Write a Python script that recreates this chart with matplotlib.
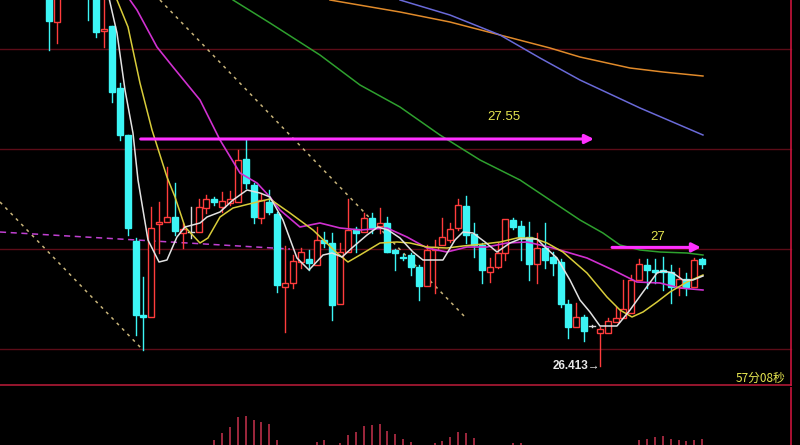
import matplotlib
matplotlib.use('Agg')
import matplotlib.pyplot as plt
from matplotlib.patches import Rectangle

plt.rcParams['font.family'] = ['Liberation Sans', 'DejaVu Sans', 'Noto Sans CJK SC']

# candles, one per bar
opens = [28.395, 28.135, 28.50, 28.40, 28.47, 28.445, 28.295, 28.09, 28.115, 27.805,
         27.57, 27.04, 26.67, 26.66, 27.125, 27.135, 27.16, 27.08, 27.085, 27.085,
         27.205, 27.25, 27.21, 27.23, 27.235, 27.45, 27.32, 27.155, 27.235, 27.175,
         26.81, 26.83, 26.935, 26.95, 26.92, 27.045, 27.03, 26.725, 26.985, 27.10,
         27.085, 27.155, 27.115, 27.13, 26.995, 26.96, 26.97, 26.91, 26.815, 26.995,
         27.02, 27.045, 27.105, 27.215, 27.075, 27.02, 26.885, 26.91, 26.98, 27.145,
         27.115, 27.06, 26.925, 27.005, 26.96, 26.935, 26.725, 26.61, 26.66, 26.615,
         26.58, 26.58, 26.635, 26.655, 26.68, 26.845, 26.92, 26.895, 26.895, 26.885,
         26.81, 26.85, 26.81, 26.95]
closes = [28.14, 28.345, 28.42, 28.48, 28.36, 28.27, 28.085, 28.10, 27.785, 27.57,
          27.105, 26.67, 26.66, 27.105, 27.135, 27.16, 27.09, 27.10, 27.085, 27.21,
          27.25, 27.235, 27.24, 27.25, 27.445, 27.33, 27.16, 27.245, 27.185, 26.82,
          26.83, 26.94, 26.985, 26.93, 27.045, 27.03, 26.72, 26.985, 27.095, 27.08,
          27.155, 27.105, 27.13, 26.985, 26.98, 26.955, 26.91, 26.815, 26.995, 27.01,
          27.06, 27.10, 27.22, 27.07, 27.02, 26.895, 26.91, 26.98, 27.15, 27.11,
          27.06, 26.925, 27.005, 26.945, 26.93, 26.725, 26.61, 26.66, 26.59, 26.615,
          26.60, 26.64, 26.655, 26.70, 26.845, 26.925, 26.895, 26.885, 26.885, 26.81,
          26.85, 26.81, 26.945, 26.925]
highs = [28.445, 28.395, 28.55, 28.52, 28.50, 28.46, 28.30, 28.27, 28.115, 27.83,
         27.57, 27.055, 26.86, 27.21, 27.235, 27.41, 27.33, 27.13, 27.21, 27.25,
         27.27, 27.26, 27.285, 27.29, 27.495, 27.545, 27.33, 27.28, 27.295, 27.185,
         27.015, 26.97, 27.005, 26.995, 27.11, 27.085, 27.08, 27.03, 27.25, 27.11,
         27.18, 27.18, 27.205, 27.16, 27.0, 26.975, 26.98, 26.92, 27.02, 27.045,
         27.155, 27.13, 27.25, 27.265, 27.13, 27.03, 26.955, 27.03, 27.15, 27.155,
         27.14, 27.135, 27.08, 27.13, 26.985, 26.95, 26.745, 26.73, 26.67, 26.62,
         26.61, 26.655, 26.71, 26.845, 26.87, 26.95, 26.95, 26.95, 26.96, 26.92,
         26.905, 26.88, 26.955, 26.955]
lows = [27.995, 28.03, 28.38, 28.36, 28.30, 28.145, 28.06, 28.01, 27.735, 27.545,
        27.07, 26.57, 26.495, 26.66, 26.98, 27.135, 27.07, 27.005, 27.055, 27.085,
        27.18, 27.22, 27.185, 27.22, 27.235, 27.305, 27.13, 27.13, 27.175, 26.785,
        26.585, 26.805, 26.905, 26.895, 26.92, 27.01, 26.645, 26.725, 26.985, 26.985,
        27.085, 27.08, 27.08, 26.985, 26.895, 26.945, 26.87, 26.745, 26.815, 26.78,
        27.02, 27.035, 27.095, 27.03, 26.96, 26.83, 26.835, 26.905, 26.945, 27.10,
        26.945, 26.845, 26.83, 26.905, 26.87, 26.71, 26.555, 26.61, 26.54, 26.61,
        26.413, 26.58, 26.635, 26.655, 26.68, 26.845, 26.805, 26.83, 26.795, 26.73,
        26.77, 26.77, 26.81, 26.905]

# moving averages (bar index, price)
ma_white_x = [7.1, 8.64, 9.66, 10.67, 11.31, 12.58, 13.98, 14.99, 16.26, 17.28, 19.19, 20.08,
              21.73, 23.38, 25.16, 26.81, 28.08, 29.73, 31.51, 33.04, 34.82, 35.96, 37.23,
              38.63, 40.41, 41.8, 43.08, 44.6, 46.25, 47.52, 49.3, 50.06, 51.59, 52.6, 53.88,
              55.4, 56.93, 58.58, 59.85, 62.0, 63.02, 64.55, 66.2, 67.47, 68.74, 70.01,
              72.17, 73.83, 75.48, 77.26, 78.02, 79.29, 80.56, 81.83, 83.1]
ma_white_y = [28.345, 28.08, 27.795, 27.58, 27.345, 27.045, 26.935, 26.945, 27.06, 27.11, 27.13,
              27.16, 27.185, 27.245, 27.295, 27.28, 27.26, 27.145, 26.955, 26.895, 26.97, 26.98,
              26.96, 27.01, 27.07, 27.11, 27.095, 27.055, 26.985, 26.945, 26.945, 26.945,
              27.045, 27.085, 27.08, 27.035, 26.985, 27.03, 27.05, 27.05, 27.01, 26.955,
              26.845, 26.745, 26.685, 26.615, 26.615, 26.695, 26.785, 26.88, 26.89, 26.88,
              26.845, 26.845, 26.865]
ma_yellow_x = [8.13, 8.64, 10.04, 11.56, 13.09, 14.99, 16.01, 17.28, 19.19, 20.2, 21.73, 23.38,
               25.92, 28.08, 30.62, 33.55, 36.6, 37.99, 39.52, 42.06, 44.22, 45.87, 48.03,
               50.57, 52.6, 55.15, 57.31, 59.47, 61.5, 63.28, 65.31, 68.36, 70.9, 72.55,
               74.08, 75.48, 77.26, 78.91, 81.07, 83.1]
ma_yellow_y = [28.345, 28.245, 28.11, 27.83, 27.595, 27.36, 27.26, 27.11, 27.03, 27.055, 27.16,
               27.205, 27.23, 27.25, 27.18, 27.095, 26.98, 26.935, 26.97, 27.03, 27.035,
               27.03, 27.01, 27.005, 27.015, 27.025, 27.035, 27.055, 27.055, 27.03, 26.985,
               26.88, 26.76, 26.695, 26.66, 26.685, 26.735, 26.785, 26.835, 26.87]
ma_purple_x = [9.66, 10.29, 11.18, 13.72, 15.76, 19.19, 21.73, 24.27, 26.43, 28.08, 29.35,
               31.89, 34.43, 36.98, 39.52, 42.95, 45.49, 48.03, 50.57, 53.11, 55.65, 58.2,
               60.74, 62.39, 64.04, 68.36, 71.66, 74.71, 77.64, 80.18, 83.1]
ma_purple_y = [28.345, 28.245, 28.195, 28.01, 27.91, 27.745, 27.545, 27.38, 27.33, 27.26,
               27.195, 27.11, 27.13, 27.105, 27.095, 27.105, 27.06, 27.005, 26.985, 27.01,
               27.01, 27.03, 27.035, 27.02, 27.005, 26.955, 26.895, 26.835, 26.83, 26.805,
               26.795]
ma_green_x = [21.98, 23.38, 28.08, 34.43, 39.52, 44.6, 49.68, 54.77, 59.85, 63.66, 67.47,
              70.39, 72.55, 75.1, 77.64, 81.07, 83.1]
ma_green_y = [28.295, 28.245, 28.13, 27.97, 27.82, 27.71, 27.57, 27.445, 27.345, 27.245,
              27.145, 27.08, 27.02, 26.995, 26.985, 26.98, 26.97]
ma_orange_x = [35.7, 44.6, 50.95, 57.31, 63.66, 67.47, 73.83, 78.02, 83.1]
ma_orange_y = [28.245, 28.185, 28.135, 28.07, 28.005, 27.96, 27.905, 27.885, 27.865]
ma_blue_x = [44.6, 50.95, 57.31, 62.39, 67.47, 75.1, 83.1]
ma_blue_y = [28.245, 28.17, 28.07, 27.955, 27.845, 27.705, 27.57]

# lower panel histogram (only the tops that show)
vol_idx = [21, 22, 23, 24, 25, 26, 27, 28, 29, 34, 35, 37, 38, 39, 40, 41, 42, 43, 44, 45, 46,
           49, 50, 51, 52, 53, 54, 59, 60, 75, 76, 77, 78, 79, 80, 81, 82, 83]
vol_val = [5, 12.3, 18, 28, 29.3, 25, 23, 21, 5, 3, 5, 2, 10, 13, 19, 20, 21, 14, 11, 6, 3,
           2, 4, 8, 13, 12, 7, 2.3, 2.3, 5, 6, 8.3, 9, 6, 5, 4.3, 5, 6]

grid_levels = [28.0, 27.5, 27.0, 26.5]
levels = [27.55, 27.0]
low_price = 26.413

UP = '#ff3c3c'
DOWN = '#3cf5f5'
BG = 'black'

fig = plt.figure(figsize=(8, 4.45), dpi=100, facecolor=BG)
ax = fig.add_axes([0, 59 / 445, 1, 386 / 445])
ax2 = fig.add_axes([0, 0, 1, 58 / 445])
for a in (ax, ax2):
    a.set_facecolor(BG)
    a.set_axis_off()
    a.set_xlim(-6.226, 95.43)
ax.set_ylim(26.315, 28.245)
ax2.set_ylim(0, 58)

xr = 94.28
for g in grid_levels:
    ax.plot([-6.3, xr], [g, g], color='#5c0c18', lw=1, zorder=1)
ax.plot([-6.3, xr], [26.318, 26.318], color='#b01a36', lw=1.2, zorder=1)
ax.axvline(xr, color='#c8143c', lw=1.2)
ax2.axvline(xr, color='#c8143c', lw=1.2)

# trend lines
ax.plot([-6.226, 11.94], [27.235, 26.495], color='#c8b47a', lw=1.1, ls=(0, (2, 3)), zorder=2)
ax.plot([14.1, 52.86], [28.245, 26.66], color='#c8b47a', lw=1.1, ls=(0, (2, 3)), zorder=2)
ax.plot([-6.226, 30.62], [27.085, 27.0], color='#c040d0', lw=1.1, ls=(0, (4, 3)), zorder=2)

w = 0.38
for i in range(len(opens)):
    o, h, l, c = opens[i], highs[i], lows[i], closes[i]
    if c > o:
        ax.plot([i, i], [l, o], color=UP, lw=1, zorder=3)
        ax.plot([i, i], [c, h], color=UP, lw=1, zorder=3)
        ax.add_patch(Rectangle((i - w, o), 2 * w, c - o, facecolor=BG, edgecolor=UP, lw=1, zorder=3))
    elif c < o:
        ax.plot([i, i], [l, h], color=DOWN, lw=1, zorder=3)
        ax.add_patch(Rectangle((i - w, c), 2 * w, o - c, facecolor=DOWN, edgecolor=DOWN, lw=1, zorder=3))
    else:
        ax.plot([i, i], [l, h], color='#d8d8d8', lw=1, zorder=3)
        ax.plot([i - w, i + w], [o, o], color='#d8d8d8', lw=1, zorder=3)

ax.plot(ma_orange_x, ma_orange_y, color='#e08a2a', lw=1.1, zorder=4)
ax.plot(ma_blue_x, ma_blue_y, color='#6a6ad8', lw=1.1, zorder=4)
ax.plot(ma_green_x, ma_green_y, color='#2ea02e', lw=1.1, zorder=4)
ax.plot(ma_purple_x, ma_purple_y, color='#d030d0', lw=1.2, zorder=4)
ax.plot(ma_yellow_x, ma_yellow_y, color='#d8cc3a', lw=1.1, zorder=4)
ax.plot(ma_white_x, ma_white_y, color='#e2e2e2', lw=1.1, zorder=4)

# level arrows
ax.annotate('', xy=(69.6, levels[0]), xytext=(11.3, levels[0]),
            arrowprops=dict(arrowstyle='-|>', color='#ff30ff', lw=2.2, mutation_scale=13), zorder=5)
ax.text(57.8, 27.66, '27.55', color='#e6e650', fontsize=9.5, ha='center', va='center', zorder=5)
ax.annotate('', xy=(83.2, levels[1] + 0.008), xytext=(71.2, levels[1] + 0.008),
            arrowprops=dict(arrowstyle='-|>', color='#ff30ff', lw=2.2, mutation_scale=13), zorder=5)
ax.text(77.4, 27.06, '27', color='#e6e650', fontsize=9.5, ha='center', va='center', zorder=5)

ax.text(70.0, low_price, '%.3f→' % low_price, color='#e8e8e8', fontsize=8.5, fontweight='bold',
        ha='right', va='center', family=['Liberation Sans', 'DejaVu Sans'], zorder=5)
ax.text(87.2, 26.355, '57分08秒', color='#e6e650', fontsize=8.5, ha='left', va='center',
        family=['Noto Sans CJK SC', 'DejaVu Sans'], zorder=5)

ax2.vlines(vol_idx, 0, vol_val, color='#c8324e', lw=1.1)

fig.savefig('out.png', dpi=100, facecolor=BG)
